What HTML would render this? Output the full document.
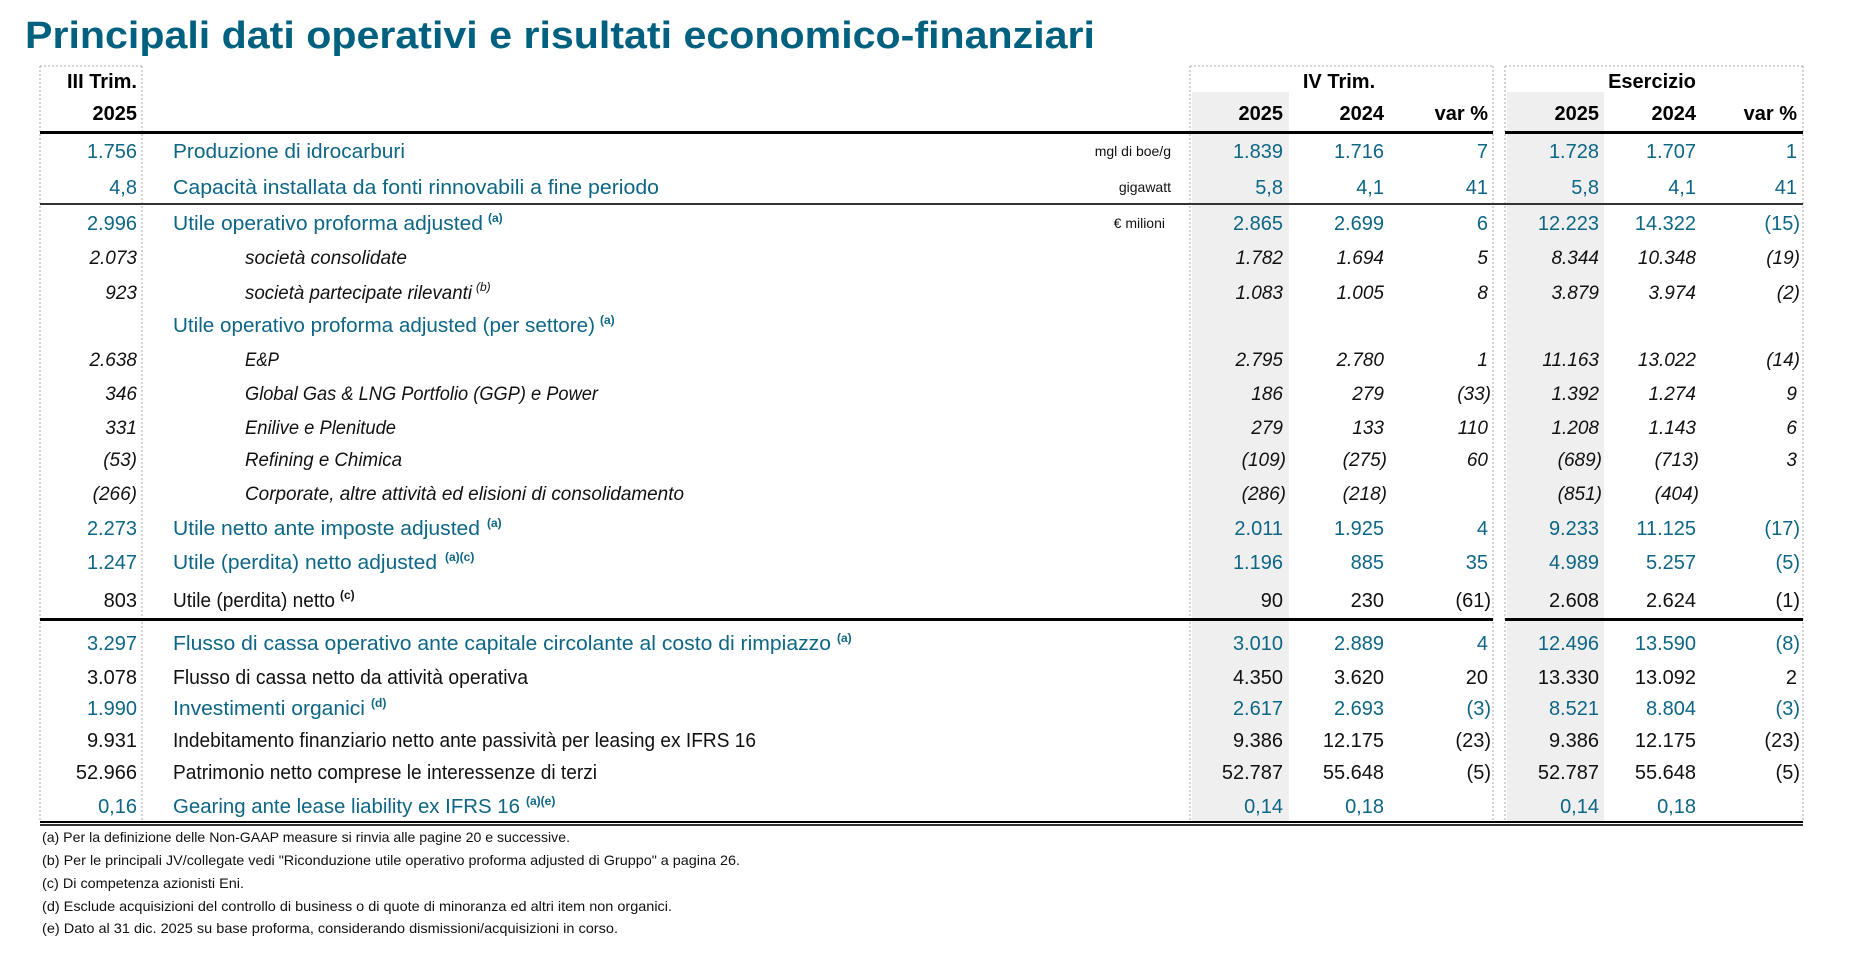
<!DOCTYPE html>
<html><head><meta charset="utf-8"><style>
html,body{margin:0;padding:0;background:#fff;}
svg{display:block;}
text{font-family:"Liberation Sans",sans-serif;}
.t{fill:#0d6685;font-size:20px;}
.k{fill:#111;font-size:20px;}
.i{fill:#111;font-size:19px;font-style:italic;}
.h{fill:#000;font-size:20px;font-weight:bold;}
.s{font-size:12px;font-weight:bold;}
.u{fill:#111;font-size:14px;}
.f{fill:#111;font-size:14px;}
</style></head><body>
<svg width="1862" height="960" viewBox="0 0 1862 960" xmlns="http://www.w3.org/2000/svg">
<rect width="1862" height="960" fill="#fff"/>
<text x="25" y="48" font-size="38" font-weight="bold" fill="#00607f" textLength="1070" lengthAdjust="spacingAndGlyphs">Principali dati operativi e risultati economico-finanziari</text>

<!-- grey columns -->
<rect x="1192" y="92" width="97" height="729" fill="#efefef"/>
<rect x="1507" y="92" width="97" height="729" fill="#efefef"/>

<!-- dotted boxes -->
<g stroke="#aaa" stroke-width="1" stroke-dasharray="2,2" fill="none">
<line x1="40" y1="66" x2="142" y2="66"/>
<line x1="40" y1="66" x2="40" y2="821"/>
<line x1="142" y1="66" x2="142" y2="821"/>
<line x1="1190" y1="66" x2="1493" y2="66"/>
<line x1="1190" y1="66" x2="1190" y2="821"/>
<line x1="1493" y1="66" x2="1493" y2="821"/>
<line x1="1505" y1="66" x2="1803" y2="66"/>
<line x1="1505" y1="66" x2="1505" y2="821"/>
<line x1="1803" y1="66" x2="1803" y2="821"/>
</g>

<!-- rules -->
<rect x="40" y="131" width="1453" height="3" fill="#000"/>
<rect x="1505" y="131" width="298" height="3" fill="#000"/>
<rect x="40" y="203" width="1763" height="2" fill="#333"/>
<rect x="40" y="618" width="1453" height="3" fill="#000"/>
<rect x="1505" y="618" width="298" height="3" fill="#000"/>
<rect x="40" y="821" width="1763" height="2" fill="#000"/>
<rect x="40" y="824" width="1763" height="2" fill="#333"/>

<!-- headers -->
<g class="h" text-anchor="end">
<text class="h" x="137" y="88">III Trim.</text>
<text class="h" x="137" y="120">2025</text>
<text class="h" x="1283" y="120">2025</text>
<text class="h" x="1384" y="120">2024</text>
<text class="h" x="1488" y="120">var %</text>
<text class="h" x="1599" y="120">2025</text>
<text class="h" x="1696" y="120">2024</text>
<text class="h" x="1797" y="120">var %</text>
</g>
<text class="h" x="1339" y="88" text-anchor="middle">IV Trim.</text>
<text class="h" x="1652" y="88" text-anchor="middle">Esercizio</text>

<!-- labels -->
<text class="t" x="173" y="158" textLength="232" lengthAdjust="spacingAndGlyphs">Produzione di idrocarburi</text>
<text class="t" x="173" y="194" textLength="486" lengthAdjust="spacingAndGlyphs">Capacità installata da fonti rinnovabili a fine periodo</text>
<text class="t" x="173" y="230" textLength="310" lengthAdjust="spacingAndGlyphs">Utile operativo proforma adjusted</text>
<text class="t s" x="488" y="222">(a)</text>
<text class="i" x="245" y="264" textLength="162" lengthAdjust="spacingAndGlyphs">società consolidate</text>
<text class="i" x="245" y="299" textLength="227" lengthAdjust="spacingAndGlyphs">società partecipate rilevanti</text>
<text class="i s" x="476" y="291" style="font-style:italic;font-weight:normal">(b)</text>
<text class="t" x="173" y="332" textLength="422" lengthAdjust="spacingAndGlyphs">Utile operativo proforma adjusted (per settore)</text>
<text class="t s" x="600" y="324">(a)</text>
<text class="i" x="245" y="366" textLength="34" lengthAdjust="spacingAndGlyphs">E&amp;P</text>
<text class="i" x="245" y="400" textLength="353" lengthAdjust="spacingAndGlyphs">Global Gas &amp; LNG Portfolio (GGP) e Power</text>
<text class="i" x="245" y="434" textLength="151" lengthAdjust="spacingAndGlyphs">Enilive e Plenitude</text>
<text class="i" x="245" y="466" textLength="157" lengthAdjust="spacingAndGlyphs">Refining e Chimica</text>
<text class="i" x="245" y="500" textLength="439" lengthAdjust="spacingAndGlyphs">Corporate, altre attività ed elisioni di consolidamento</text>
<text class="t" x="173" y="535" textLength="307" lengthAdjust="spacingAndGlyphs">Utile netto ante imposte adjusted</text>
<text class="t s" x="487" y="527">(a)</text>
<text class="t" x="173" y="569" textLength="264" lengthAdjust="spacingAndGlyphs">Utile (perdita) netto adjusted</text>
<text class="t s" x="445" y="561">(a)(c)</text>
<text class="k" x="173" y="607" textLength="162" lengthAdjust="spacingAndGlyphs">Utile (perdita) netto</text>
<text class="k s" x="340" y="599">(c)</text>
<text class="t" x="173" y="650" textLength="658" lengthAdjust="spacingAndGlyphs">Flusso di cassa operativo ante capitale circolante al costo di rimpiazzo</text>
<text class="t s" x="837" y="642">(a)</text>
<text class="k" x="173" y="684" textLength="355" lengthAdjust="spacingAndGlyphs">Flusso di cassa netto da attività operativa</text>
<text class="t" x="173" y="715" textLength="192" lengthAdjust="spacingAndGlyphs">Investimenti organici</text>
<text class="t s" x="371" y="707">(d)</text>
<text class="k" x="173" y="747" textLength="583" lengthAdjust="spacingAndGlyphs">Indebitamento finanziario netto ante passività per leasing ex IFRS 16</text>
<text class="k" x="173" y="779" textLength="424" lengthAdjust="spacingAndGlyphs">Patrimonio netto comprese le interessenze di terzi</text>
<text class="t" x="173" y="813" textLength="347" lengthAdjust="spacingAndGlyphs">Gearing ante lease liability ex IFRS 16</text>
<text class="t s" x="526" y="805">(a)(e)</text>

<!-- units -->
<g text-anchor="end">
<text class="u" x="1171" y="156">mgl di boe/g</text>
<text class="u" x="1171" y="192">gigawatt</text>
<text class="u" x="1165" y="228">€ milioni</text>
</g>

<!-- numbers -->
<g text-anchor="end">
<g class="t">
<text x="137" y="158">1.756</text><text x="1283" y="158">1.839</text><text x="1384" y="158">1.716</text><text x="1488" y="158">7</text><text x="1599" y="158">1.728</text><text x="1696" y="158">1.707</text><text x="1797" y="158">1</text>
<text x="137" y="194">4,8</text><text x="1283" y="194">5,8</text><text x="1384" y="194">4,1</text><text x="1488" y="194">41</text><text x="1599" y="194">5,8</text><text x="1696" y="194">4,1</text><text x="1797" y="194">41</text>
<text x="137" y="230">2.996</text><text x="1283" y="230">2.865</text><text x="1384" y="230">2.699</text><text x="1488" y="230">6</text><text x="1599" y="230">12.223</text><text x="1696" y="230">14.322</text><text x="1800" y="230">(15)</text>
<text x="137" y="535">2.273</text><text x="1283" y="535">2.011</text><text x="1384" y="535">1.925</text><text x="1488" y="535">4</text><text x="1599" y="535">9.233</text><text x="1696" y="535">11.125</text><text x="1800" y="535">(17)</text>
<text x="137" y="569">1.247</text><text x="1283" y="569">1.196</text><text x="1384" y="569">885</text><text x="1488" y="569">35</text><text x="1599" y="569">4.989</text><text x="1696" y="569">5.257</text><text x="1800" y="569">(5)</text>
<text x="137" y="650">3.297</text><text x="1283" y="650">3.010</text><text x="1384" y="650">2.889</text><text x="1488" y="650">4</text><text x="1599" y="650">12.496</text><text x="1696" y="650">13.590</text><text x="1800" y="650">(8)</text>
<text x="137" y="715">1.990</text><text x="1283" y="715">2.617</text><text x="1384" y="715">2.693</text><text x="1491" y="715">(3)</text><text x="1599" y="715">8.521</text><text x="1696" y="715">8.804</text><text x="1800" y="715">(3)</text>
<text x="137" y="813">0,16</text><text x="1283" y="813">0,14</text><text x="1384" y="813">0,18</text><text x="1599" y="813">0,14</text><text x="1696" y="813">0,18</text>
</g>
<g class="i">
<text x="137" y="264">2.073</text><text x="1283" y="264">1.782</text><text x="1384" y="264">1.694</text><text x="1488" y="264">5</text><text x="1599" y="264">8.344</text><text x="1696" y="264">10.348</text><text x="1800" y="264">(19)</text>
<text x="137" y="299">923</text><text x="1283" y="299">1.083</text><text x="1384" y="299">1.005</text><text x="1488" y="299">8</text><text x="1599" y="299">3.879</text><text x="1696" y="299">3.974</text><text x="1800" y="299">(2)</text>
<text x="137" y="366">2.638</text><text x="1283" y="366">2.795</text><text x="1384" y="366">2.780</text><text x="1488" y="366">1</text><text x="1599" y="366">11.163</text><text x="1696" y="366">13.022</text><text x="1800" y="366">(14)</text>
<text x="137" y="400">346</text><text x="1283" y="400">186</text><text x="1384" y="400">279</text><text x="1491" y="400">(33)</text><text x="1599" y="400">1.392</text><text x="1696" y="400">1.274</text><text x="1797" y="400">9</text>
<text x="137" y="434">331</text><text x="1283" y="434">279</text><text x="1384" y="434">133</text><text x="1488" y="434">110</text><text x="1599" y="434">1.208</text><text x="1696" y="434">1.143</text><text x="1797" y="434">6</text>
<text x="137" y="466">(53)</text><text x="1286" y="466">(109)</text><text x="1387" y="466">(275)</text><text x="1488" y="466">60</text><text x="1602" y="466">(689)</text><text x="1699" y="466">(713)</text><text x="1797" y="466">3</text>
<text x="137" y="500">(266)</text><text x="1286" y="500">(286)</text><text x="1387" y="500">(218)</text><text x="1602" y="500">(851)</text><text x="1699" y="500">(404)</text>
</g>
<g class="k">
<text x="137" y="607">803</text><text x="1283" y="607">90</text><text x="1384" y="607">230</text><text x="1491" y="607">(61)</text><text x="1599" y="607">2.608</text><text x="1696" y="607">2.624</text><text x="1800" y="607">(1)</text>
<text x="137" y="684">3.078</text><text x="1283" y="684">4.350</text><text x="1384" y="684">3.620</text><text x="1488" y="684">20</text><text x="1599" y="684">13.330</text><text x="1696" y="684">13.092</text><text x="1797" y="684">2</text>
<text x="137" y="747">9.931</text><text x="1283" y="747">9.386</text><text x="1384" y="747">12.175</text><text x="1491" y="747">(23)</text><text x="1599" y="747">9.386</text><text x="1696" y="747">12.175</text><text x="1800" y="747">(23)</text>
<text x="137" y="779">52.966</text><text x="1283" y="779">52.787</text><text x="1384" y="779">55.648</text><text x="1491" y="779">(5)</text><text x="1599" y="779">52.787</text><text x="1696" y="779">55.648</text><text x="1800" y="779">(5)</text>
</g>
</g>

<!-- footnotes -->
<text class="f" x="42" y="842" textLength="528" lengthAdjust="spacingAndGlyphs">(a) Per la definizione delle Non-GAAP measure si rinvia alle pagine 20 e successive.</text>
<text class="f" x="42" y="865" textLength="698" lengthAdjust="spacingAndGlyphs">(b) Per le principali JV/collegate vedi "Riconduzione utile operativo proforma adjusted di Gruppo" a pagina 26.</text>
<text class="f" x="42" y="888" textLength="202" lengthAdjust="spacingAndGlyphs">(c) Di competenza azionisti Eni.</text>
<text class="f" x="42" y="911" textLength="630" lengthAdjust="spacingAndGlyphs">(d) Esclude acquisizioni del controllo di business o di quote di minoranza ed altri item non organici.</text>
<text class="f" x="42" y="933" textLength="576" lengthAdjust="spacingAndGlyphs">(e) Dato al 31 dic. 2025 su base proforma, considerando dismissioni/acquisizioni in corso.</text>
</svg>
</body></html>
